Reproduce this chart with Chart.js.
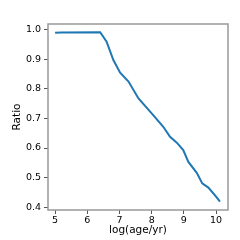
<!DOCTYPE html>
<html><head><meta charset="utf-8">
<script src="https://cdn.jsdelivr.net/npm/chart.js@4"></script>
<style>html,body{margin:0;padding:0;background:#fff}#w{width:240px;height:240px}</style>
</head><body><div id="w"><canvas id="c" width="240" height="240"></canvas></div>
<script>
const logAge = [5.0, 5.2, 6.4, 6.6, 6.81, 7.02, 7.28, 7.59, 8.0, 8.36, 8.57, 8.78, 8.98, 9.14, 9.4, 9.57, 9.76, 10.0, 10.12];
const ratio  = [0.990, 0.991, 0.992, 0.960, 0.898, 0.855, 0.825, 0.768, 0.717, 0.672, 0.638, 0.618, 0.593, 0.553, 0.516, 0.480, 0.466, 0.435, 0.418];
const xTicks = [5, 6, 7, 8, 9, 10];
const yTicks = [0.4, 0.5, 0.6, 0.7, 0.8, 0.9, 1.0];

const FAM = "'DejaVu Sans', sans-serif";
Chart.defaults.font.family = FAM;

const frame = {
  id: 'frame',
  afterDraw(chart) {
    const {ctx, chartArea: a} = chart;
    ctx.save();
    ctx.strokeStyle = '#999999';
    ctx.lineWidth = 1.5;
    ctx.strokeRect(a.left, a.top, a.right - a.left, a.bottom - a.top);
    ctx.restore();
  }
};

new Chart(document.getElementById('c'), {
  type: 'scatter',
  data: { datasets: [{
    data: logAge.map((x, i) => ({x, y: ratio[i]})),
    showLine: true, borderColor: '#1f77b4', borderWidth: 2, pointRadius: 0, tension: 0
  }]},
  options: {
    responsive: false, animation: false, devicePixelRatio: 1,
    layout: { padding: { top: 24, right: 12, left: 0, bottom: 0 } },
    plugins: { legend: { display: false }, tooltip: { enabled: false } },
    scales: {
      x: {
        type: 'linear', min: 4.78, max: 10.37,
        afterBuildTicks: s => { s.ticks = xTicks.map(v => ({value: v})); },
        afterFit: s => { s.height = 30; },
        grid: { display: true, drawOnChartArea: false, drawTicks: true, tickLength: 4, color: '#555', tickWidth: 1 },
        border: { display: false },
        ticks: { color: '#000', font: { family: FAM, size: 9.5 }, padding: 1, maxRotation: 0, callback: v => String(v) },
        title: { display: true, text: 'log(age/yr)', color: '#000', font: { family: FAM, size: 10.5 }, padding: { top: 0, bottom: 3 } }
      },
      y: {
        type: 'linear', min: 0.39, max: 1.02,
        afterBuildTicks: s => { s.ticks = yTicks.map(v => ({value: v})); },
        afterFit: s => { s.width = 48; },
        grid: { display: true, drawOnChartArea: false, drawTicks: true, tickLength: 4, color: '#555', tickWidth: 1 },
        border: { display: false },
        ticks: { color: '#000', font: { family: FAM, size: 9.5 }, padding: 3, callback: v => v.toFixed(1) },
        title: { display: true, text: 'Ratio', color: '#000', font: { family: FAM, size: 10.5 }, padding: { top: 11, bottom: 0 } }
      }
    }
  },
  plugins: [frame]
});
</script></body></html>
